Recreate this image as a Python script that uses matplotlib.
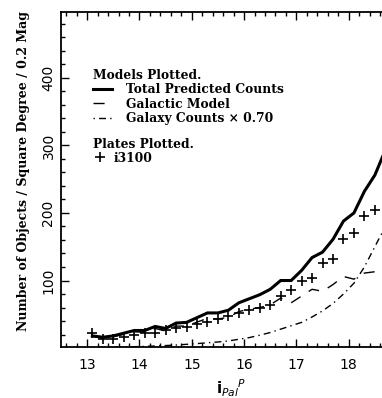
import matplotlib
matplotlib.use("Agg")
import matplotlib.pyplot as plt
from matplotlib.ticker import MultipleLocator

mags = [13.1, 13.3, 13.5, 13.7, 13.9, 14.1, 14.3, 14.5, 14.7, 14.9,
        15.1, 15.3, 15.5, 15.7, 15.9, 16.1, 16.3, 16.5, 16.7, 16.9,
        17.1, 17.3, 17.5, 17.7, 17.9, 18.1, 18.3, 18.5, 18.7]
total_pred = [18, 16, 18, 22, 26, 26, 32, 29, 37, 38,
              45, 52, 52, 56, 67, 73, 79, 87, 100, 100,
              115, 134, 142, 161, 188, 200, 232, 256, 293]
galactic = [17, 15, 16.7, 20.4, 24, 23.5, 29, 25.3, 32.5, 32.5,
            38.4, 44, 43, 45.5, 54, 57.5, 60, 64, 74, 67,
            77, 87, 84, 94, 106, 102, 111, 113, 117]
galaxy_070 = [0.8, 1.0, 1.3, 1.6, 2.0, 2.5, 3.0, 3.7, 4.5, 5.5,
              6.6, 7.8, 9.0, 10.5, 13, 15.5, 19, 23, 28, 33,
              38, 46, 55, 66, 80, 96, 120, 150, 180]

plate_mags = [13.1, 13.3, 13.5, 13.7, 13.9, 14.1, 14.3, 14.5, 14.7, 14.9,
              15.1, 15.3, 15.5, 15.7, 15.9, 16.1, 16.3, 16.5, 16.7, 16.9,
              17.1, 17.3, 17.5, 17.7, 17.9, 18.1, 18.3, 18.5]
plate_i3100 = [23, 14, 14, 16, 19, 22, 23, 27, 30, 31,
               35, 38, 43, 47, 52, 56, 60, 64, 77, 86,
               100, 103, 126, 132, 162, 171, 195, 204]

xticks = [13, 14, 15, 16, 17, 18]
yticks = [100, 200, 300, 400]

W, H = 382, 398
fig = plt.figure(figsize=(W / 100, H / 100), dpi=100)
x0, x1 = 61, 401
y0, y1 = 11.7, 346.7
ax = fig.add_axes([x0 / W, 1 - y1 / H, (x1 - x0) / W, (y1 - y0) / H])

serif = ["DejaVu Serif"]

l1, = ax.plot(mags, total_pred, color="black", lw=2.2, solid_joinstyle="miter",
              label="Total Predicted Counts")
l2, = ax.plot(mags, galactic, color="black", lw=1.0, ls=(0, (8, 7)),
              label="Galactic Model")
l3, = ax.plot(mags, galaxy_070, color="black", lw=1.0, ls=(0, (1, 3, 5, 3)),
              label="Galaxy Counts × 0.70")
p1, = ax.plot(plate_mags, plate_i3100, ls="none", marker="+", ms=6.5, mew=1.2,
              color="black", label="i3100")

ax.set_xlim(12.5, 19)
ax.set_ylim(2, 498)
ax.xaxis.set_major_locator(MultipleLocator(1))
ax.xaxis.set_minor_locator(MultipleLocator(0.2))
ax.yaxis.set_major_locator(MultipleLocator(100))
ax.yaxis.set_minor_locator(MultipleLocator(20))
ax.set_xticks(xticks)
ax.set_yticks(yticks)
ax.tick_params(which="both", direction="in", top=True, right=True, width=1.0)
ax.tick_params(which="major", length=6)
ax.tick_params(which="minor", length=3)
ax.tick_params(axis="x", labelsize=10, pad=8)
ax.tick_params(axis="y", labelsize=10, pad=4)
for lab in ax.get_yticklabels():
    lab.set_rotation(90)
    lab.set_va("center")
for sp in ax.spines.values():
    sp.set_linewidth(1.3)

ax.set_ylabel("Number of Objects / Square Degree / 0.2 Mag",
              family=serif, fontweight="bold", fontsize=9.0, labelpad=6)
ax.yaxis.set_label_coords(-0.09, 0.525)
ax.set_xlabel(r"$\mathbf{i}_{\mathbf{\mathit{Pal}}}{}^{\mathit{P}}$", fontsize=11, labelpad=4)

prop = {"family": serif, "weight": "bold", "size": 8.8}
leg1 = ax.legend(handles=[l1, l2, l3], title="Models Plotted.", loc="upper left",
                 bbox_to_anchor=(0.068, 0.855), frameon=False, prop=prop,
                 handlelength=1.6, handletextpad=1.1, labelspacing=0.12,
                 borderpad=0.2, alignment="left")
leg1.get_title().set_fontfamily(serif)
leg1.get_title().set_fontweight("bold")
leg1.get_title().set_fontsize(8.8)
ax.add_artist(leg1)
leg2 = ax.legend(handles=[p1], title="Plates Plotted.", loc="upper left",
                 bbox_to_anchor=(0.068, 0.65), frameon=False, prop=prop,
                 handlelength=1.2, handletextpad=0.5, borderpad=0.2,
                 labelspacing=0.1, alignment="left")
leg2.get_title().set_fontfamily(serif)
leg2.get_title().set_fontweight("bold")
leg2.get_title().set_fontsize(8.8)

fig.savefig("out.png", dpi=100)
